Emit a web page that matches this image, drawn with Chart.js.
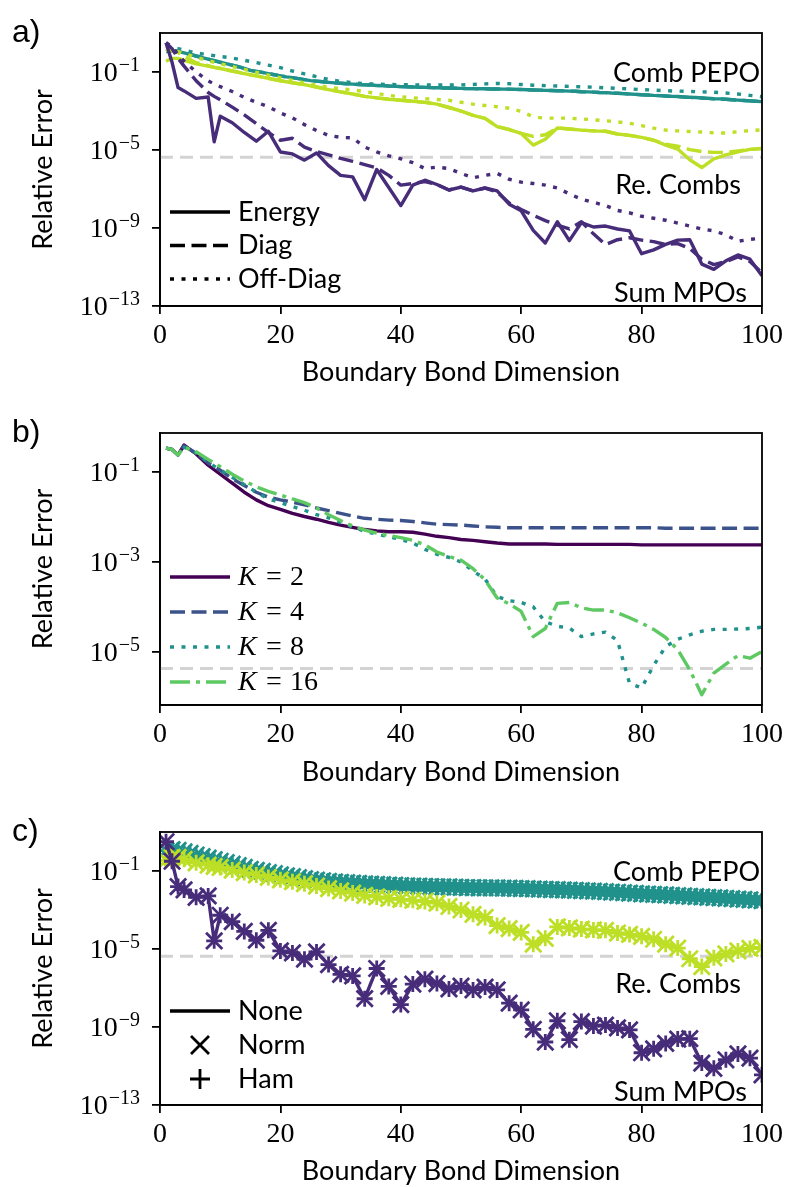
<!DOCTYPE html>
<html>
<head>
<meta charset="utf-8">
<title>Relative error vs boundary bond dimension</title>
<script src="https://cdn.jsdelivr.net/npm/chart.js@4.4.1/dist/chart.umd.min.js"></script>
<style>
  html, body { margin: 0; padding: 0; background: #fff; overflow: hidden; }
  body { width: 791px; height: 1187px; position: relative; }
  canvas { position: absolute; left: 0; }
  #panelA { top: 0; }
  #panelB { top: 400px; }
  #panelC { top: 799px; }
</style>
</head>
<body>
<canvas id="panelA" width="791" height="400"></canvas>
<canvas id="panelB" width="791" height="400"></canvas>
<canvas id="panelC" width="791" height="400"></canvas>
<script>
"use strict";

// Boundary bond dimensions (x values)
var bondDims = [1, 2, 3, 4, 6, 8, 9, 10,
  12, 14, 16, 18, 20, 22, 24, 26, 28, 30,
  32, 34, 36, 38, 40, 42, 44, 46, 48, 50,
  52, 54, 56, 58, 60, 62, 64, 66, 68, 70,
  72, 74, 76, 78, 80, 82, 84, 86, 88, 90,
  92, 94, 96, 98, 100];
var bondDimsFine = [1, 2, 3, 4, 5, 6, 7, 8, 9, 10,
  11, 12, 13, 14, 15, 16, 17, 18, 19, 20,
  21, 22, 23, 24, 25, 26, 27, 28, 29, 30,
  31, 32, 33, 34, 35, 36, 37, 38, 39, 40,
  41, 42, 43, 44, 45, 46, 47, 48, 49, 50,
  51, 52, 53, 54, 55, 56, 57, 58, 59, 60,
  61, 62, 63, 64, 65, 66, 67, 68, 69, 70,
  71, 72, 73, 74, 75, 76, 77, 78, 79, 80,
  81, 82, 83, 84, 85, 86, 87, 88, 89, 90,
  91, 92, 93, 94, 95, 96, 97, 98, 99, 100];

// All series below: log10(relative error)

// Comb PEPO (teal)
var combEnergy = [0.05, 0.1, 0.06, -0.02, -0.1, -0.18, -0.26, -0.34, -0.42, -0.5,
  -0.57, -0.65, -0.73, -0.82, -0.92, -0.97, -1.02, -1.08, -1.14, -1.2,
  -1.25, -1.29, -1.34, -1.39, -1.44, -1.47, -1.5, -1.53, -1.56, -1.58,
  -1.6, -1.62, -1.64, -1.66, -1.67, -1.69, -1.7, -1.72, -1.73, -1.75,
  -1.76, -1.77, -1.78, -1.79, -1.8, -1.81, -1.82, -1.82, -1.83, -1.84,
  -1.85, -1.85, -1.86, -1.86, -1.87, -1.87, -1.88, -1.88, -1.89, -1.9,
  -1.91, -1.92, -1.93, -1.94, -1.95, -1.96, -1.97, -1.98, -1.99, -2.01,
  -2.02, -2.03, -2.05, -2.06, -2.08, -2.09, -2.11, -2.13, -2.15, -2.17,
  -2.18, -2.2, -2.21, -2.23, -2.25, -2.26, -2.28, -2.3, -2.31, -2.33,
  -2.35, -2.37, -2.38, -2.4, -2.42, -2.44, -2.46, -2.48, -2.5, -2.52];
var combOffDiag = [0.2, 0.25, 0.2, 0.12, -0.02, -0.12, -0.16, -0.2,
  -0.28, -0.4, -0.52, -0.65, -0.78, -0.95, -1.1, -1.24, -1.38, -1.48,
  -1.55, -1.6, -1.62, -1.64, -1.65, -1.66, -1.66, -1.67, -1.67, -1.66,
  -1.64, -1.61, -1.59, -1.6, -1.64, -1.68, -1.7, -1.72, -1.74, -1.76,
  -1.78, -1.81, -1.84, -1.87, -1.9, -1.93, -1.96, -1.98, -2.0, -2.02,
  -2.04, -2.08, -2.13, -2.2, -2.27];

// Re. Combs (lime)
var reCombEnergy = [-0.45, -0.3, -0.3, -0.4, -0.58, -0.7, -0.76, -0.82,
  -0.95, -1.08, -1.2, -1.33, -1.45, -1.55, -1.65, -1.77, -1.9, -2.02,
  -2.13, -2.25, -2.33, -2.4, -2.45, -2.5, -2.56, -2.65, -2.82, -3.0,
  -3.22, -3.38, -3.8, -3.95, -4.15, -4.75, -4.45, -3.87, -3.92, -3.98,
  -4.02, -4.04, -4.18, -4.25, -4.35, -4.5, -4.75, -4.95, -5.5, -5.9,
  -5.45, -5.25, -5.1, -4.97, -4.92];
var reCombDiag = [0.1, 0.1, 0.0, -0.2, -0.52, -0.68, -0.76, -0.82,
  -0.95, -1.08, -1.2, -1.33, -1.45, -1.55, -1.65, -1.77, -1.9, -2.02,
  -2.13, -2.25, -2.33, -2.4, -2.45, -2.5, -2.56, -2.65, -2.82, -3.0,
  -3.22, -3.38, -3.8, -3.95, -4.15, -4.3, -4.22, -3.87, -3.92, -3.98,
  -4.02, -4.04, -4.18, -4.25, -4.35, -4.5, -4.7, -4.8, -4.98, -5.08,
  -5.12, -5.12, -5.05, -4.97, -4.92];
var reCombOffDiag = [0.15, 0.12, 0.05, -0.05, -0.25, -0.42, -0.5, -0.58,
  -0.72, -0.87, -1.02, -1.16, -1.3, -1.43, -1.56, -1.68, -1.78, -1.86,
  -1.92, -2.0, -2.1, -2.2, -2.27, -2.32, -2.37, -2.41, -2.45, -2.55,
  -2.65, -2.72, -2.78, -2.86, -3.02, -3.3, -3.37, -3.36, -3.37, -3.41,
  -3.45, -3.5, -3.56, -3.63, -3.75, -3.88, -3.98, -4.02, -4.05, -4.08,
  -4.12, -4.13, -4.06, -4.0, -3.97];

// Sum MPOs (purple)
var sumEnergy = [0.5, -0.5, -1.8, -1.97, -2.35, -2.28, -4.58, -3.27,
  -3.6, -4.1, -4.55, -4.04, -5.1, -5.2, -5.52, -5.15, -5.8, -6.3,
  -6.38, -7.55, -6.0, -6.92, -7.85, -6.8, -6.55, -6.77, -7.05, -6.9,
  -7.1, -6.95, -7.1, -7.78, -8.12, -9.12, -9.77, -8.68, -9.65, -8.72,
  -8.95, -8.9, -9.05, -9.15, -10.32, -10.12, -9.84, -9.62, -9.6, -10.85,
  -11.12, -10.68, -10.38, -10.6, -11.45];
var sumDiag = [0.5, 0.2, -0.3, -0.7, -1.45, -2.05, -2.25, -2.42,
  -2.8, -3.2, -3.65, -4.1, -4.5, -4.4, -4.85, -5.08, -5.25, -5.43,
  -5.58, -5.75, -5.92, -6.3, -6.8, -6.72, -6.62, -6.77, -7.05, -6.9,
  -7.1, -6.95, -7.15, -7.72, -8.05, -8.35, -8.62, -8.85, -9.05, -8.68,
  -9.3, -9.85, -9.6, -9.5, -9.62, -9.7, -9.85, -9.8, -10.05, -10.6,
  -10.88, -10.72, -10.48, -10.72, -11.3];
var sumOffDiag = [0.5, 0.3, -0.1, -0.45, -1.0, -1.45, -1.62, -1.75,
  -2.0, -2.3, -2.55, -2.78, -3.1, -3.35, -3.7, -4.0, -4.25, -4.35,
  -4.38, -4.85, -5.1, -5.3, -5.45, -5.65, -5.95, -5.88, -5.95, -6.2,
  -6.42, -6.3, -6.2, -6.5, -6.65, -6.72, -6.8, -6.95, -7.25, -7.52,
  -7.68, -7.85, -8.1, -8.22, -8.4, -8.5, -8.6, -8.75, -8.9, -9.05,
  -9.15, -9.35, -9.68, -9.58, -9.53];

// Panel b: energy error for different K
var kTwo = [-0.47, -0.5, -0.62, -0.4, -0.6, -0.85, -0.95, -1.05,
  -1.25, -1.45, -1.62, -1.75, -1.83, -1.92, -1.99, -2.05, -2.12, -2.18,
  -2.23, -2.28, -2.31, -2.33, -2.33, -2.34, -2.38, -2.43, -2.46, -2.5,
  -2.52, -2.55, -2.58, -2.6, -2.6, -2.6, -2.6, -2.61, -2.61, -2.61,
  -2.61, -2.61, -2.61, -2.61, -2.62, -2.62, -2.62, -2.62, -2.62, -2.62,
  -2.62, -2.62, -2.62, -2.62, -2.62];
var kFour = [-0.47, -0.5, -0.62, -0.42, -0.58, -0.8, -0.88, -0.96,
  -1.15, -1.3, -1.45, -1.56, -1.62, -1.67, -1.73, -1.8, -1.86, -1.92,
  -1.98, -2.03, -2.05, -2.07, -2.08, -2.1, -2.13, -2.16, -2.17, -2.18,
  -2.2, -2.22, -2.23, -2.24, -2.24, -2.24, -2.24, -2.24, -2.24, -2.24,
  -2.24, -2.24, -2.24, -2.24, -2.24, -2.24, -2.25, -2.25, -2.25, -2.25,
  -2.25, -2.25, -2.25, -2.25, -2.25];
var kEight = [-0.47, -0.5, -0.62, -0.45, -0.58, -0.78, -0.87, -0.95,
  -1.12, -1.28, -1.45, -1.6, -1.68, -1.77, -1.85, -1.95, -2.02, -2.12,
  -2.22, -2.32, -2.38, -2.44, -2.5, -2.58, -2.72, -2.83, -2.9, -3.0,
  -3.2, -3.38, -3.77, -3.86, -3.9, -4.0, -4.33, -4.43, -4.47, -4.66,
  -4.6, -4.56, -4.75, -5.7, -5.8, -5.3, -4.88, -4.72, -4.62, -4.54,
  -4.5, -4.5, -4.49, -4.48, -4.45];
var kSixteen = [-0.47, -0.5, -0.62, -0.45, -0.55, -0.72, -0.8, -0.88,
  -1.05, -1.2, -1.33, -1.43, -1.51, -1.6, -1.68, -1.8, -1.95, -2.08,
  -2.2, -2.29, -2.36, -2.41, -2.46, -2.52, -2.62, -2.78, -2.88, -2.96,
  -3.15, -3.4, -3.8, -3.93, -4.1, -4.66, -4.48, -3.92, -3.9, -4.02,
  -4.07, -4.07, -4.13, -4.24, -4.36, -4.5, -4.68, -4.95, -5.4, -5.95,
  -5.47, -5.27, -5.08, -5.14, -4.99];

var thresholdError = 4.3e-6;
var xRange = [0, 100];
var xTicks = [0, 20, 40, 60, 80, 100];
var yTicksAC = [1e-13, 1e-9, 1e-5, 1e-1];
var yTicksB = [1e-5, 1e-3, 1e-1];
var kLabels = ['2', '4', '8', '16'];

var purple = '#472c7a', teal = '#21918c', lime = '#bddf26';
var kColors = ['#440154', '#3b528b', '#21918c', '#5ec962'];
var dashed = [15, 6.5], dotted = [4, 7.5], dashDot = [20, 6, 4, 6];

var sansFont = 'Lato, "DejaVu Sans", sans-serif';
var serifFont = '"Liberation Serif", "DejaVu Serif", serif';
var letterFont = '"Liberation Sans", Arial, sans-serif';
var lineW = 3.4;

Chart.defaults.font.family = sansFont;
Chart.defaults.color = '#000';

function pts(dims, logs) {
  return dims.map(function (d, i) { return {x: d, y: Math.pow(10, logs[i])}; });
}

function line(data, color, dash) {
  return {
    data: data, borderColor: color, backgroundColor: color, borderWidth: lineW,
    borderDash: dash || [], borderCapStyle: 'butt', borderJoinStyle: 'round',
    pointRadius: 0, tension: 0, fill: false, clip: 0
  };
}

function markers(data, color, style, radius) {
  return {
    data: data, showLine: false, pointStyle: style, pointRadius: radius,
    pointBorderWidth: 2.8, pointBorderColor: color, pointBackgroundColor: color,
    borderColor: color, clip: 0
  };
}

function threshold() {
  var d = line([{x: xRange[0], y: thresholdError}, {x: xRange[1], y: thresholdError}], '#d3d3d3', [13, 7]);
  d.borderWidth = 3;
  return d;
}

// frame, 10^n tick labels, legend, notes and panel letter
var decor = {
  id: 'decor',
  afterDatasetsDraw: function (chart) {
    var a = chart.chartArea, ctx = chart.ctx;
    ctx.save();
    ctx.strokeStyle = '#000';
    ctx.lineWidth = 1.8;
    ctx.strokeRect(a.left, a.top, a.right - a.left, a.bottom - a.top);
    ctx.restore();
  },
  afterDraw: function (chart, args, opts) {
    var ctx = chart.ctx, a = chart.chartArea, ys = chart.scales.y;
    ctx.save();
    ctx.fillStyle = '#000';
    ctx.textBaseline = 'alphabetic';

    ys.ticks.forEach(function (t) {
      var py = ys.getPixelForValue(t.value);
      var exp = '\u2212' + Math.round(-Math.log10(t.value));
      var right = a.left - 20;
      ctx.font = '20px ' + serifFont;
      var ew = ctx.measureText(exp).width;
      ctx.textAlign = 'left';
      ctx.fillText(exp, right - ew, py - 1);
      ctx.font = '28px ' + serifFont;
      ctx.textAlign = 'right';
      ctx.fillText('10', right - ew - 1, py + 9);
    });

    ctx.font = '32px ' + letterFont;
    ctx.textAlign = 'left';
    ctx.fillText(opts.letter, 12, a.top + 9);

    ctx.textBaseline = 'middle';
    ctx.font = '27px ' + sansFont;
    (opts.notes || []).forEach(function (n) {
      ctx.textAlign = 'right';
      ctx.fillText(n.text, a.right - n.dx, a.top + n.dy);
    });

    (opts.legend || []).forEach(function (item, i) {
      var y = a.top + opts.legendTop + i * opts.legendGap;
      var cx = a.left + 40;
      ctx.strokeStyle = item.color || '#000';
      ctx.lineWidth = lineW;
      ctx.lineCap = 'butt';
      ctx.setLineDash(item.dash || []);
      ctx.beginPath();
      if (item.marker === 'x') {
        ctx.lineWidth = 2.8;
        ctx.moveTo(cx - 9, y - 9); ctx.lineTo(cx + 9, y + 9);
        ctx.moveTo(cx + 9, y - 9); ctx.lineTo(cx - 9, y + 9);
      } else if (item.marker === '+') {
        ctx.lineWidth = 2.8;
        ctx.moveTo(cx - 10, y); ctx.lineTo(cx + 10, y);
        ctx.moveTo(cx, y - 10); ctx.lineTo(cx, y + 10);
      } else {
        ctx.moveTo(a.left + 10, y); ctx.lineTo(a.left + 70, y);
      }
      ctx.stroke();
      ctx.setLineDash([]);
      ctx.textAlign = 'left';
      var tx = a.left + 78;
      if (item.k) {
        ctx.font = 'italic 28px ' + serifFont;
        ctx.fillText('K', tx, y + 1);
        ctx.font = '28px ' + serifFont;
        ctx.fillText('=', tx + 28, y + 1);
        ctx.fillText(item.k, tx + 52, y + 1);
      } else {
        ctx.font = '27px ' + sansFont;
        ctx.fillText(item.text, tx, y);
      }
    });
    ctx.restore();
  }
};

function axes(yMin, yMax, yTicks, xAxisHeight) {
  var grid = {drawOnChartArea: false, drawTicks: true, tickLength: 8, lineWidth: 1.8, color: '#000'};
  var border = {display: true, color: '#000', width: 1.8};
  return {
    x: {
      type: 'linear', min: xRange[0], max: xRange[1],
      afterBuildTicks: function (s) { s.ticks = xTicks.map(function (v) { return {value: v}; }); },
      ticks: {color: '#000', font: {family: serifFont, size: 28, lineHeight: 1}, padding: 8, maxRotation: 0, autoSkip: false},
      grid: grid, border: border,
      title: {display: true, text: 'Boundary Bond Dimension', color: '#000',
        font: {family: sansFont, size: 27, lineHeight: 1.2}, padding: {top: 0, bottom: 12}},
      afterFit: function (s) { s.height = xAxisHeight; }
    },
    y: {
      type: 'logarithmic', min: yMin, max: yMax,
      afterBuildTicks: function (s) { s.ticks = yTicks.map(function (v) { return {value: v}; }); },
      ticks: {display: false},
      grid: grid, border: border,
      title: {display: true, text: 'Relative Error', color: '#000',
        font: {family: sansFont, size: 27, lineHeight: 1.2}, padding: {top: 27, bottom: 0}},
      afterFit: function (s) { s.width = 160; }
    }
  };
}

function panel(id, datasets, yMin, yMax, yTicks, xAxisHeight, decorOpts) {
  // datasets are listed bottom to top
  datasets.forEach(function (d, i) { d.order = datasets.length - i; });
  return new Chart(document.getElementById(id), {
    type: 'line',
    data: {datasets: datasets},
    options: {
      responsive: false, animation: false, devicePixelRatio: 1, events: [],
      layout: {padding: {top: 33, right: 24, bottom: 0, left: 0}},
      plugins: {legend: {display: false}, tooltip: {enabled: false}, decor: decorOpts},
      scales: axes(yMin, yMax, yTicks, xAxisHeight)
    },
    plugins: [decor]
  });
}

var seriesNotes = [
  {text: 'Comb PEPO', dx: 2, dy: 40},
  {text: 'Re. Combs', dx: 21, dy: 152},
  {text: 'Sum MPOs', dx: 15, dy: 260}
];

// a) energy / diagonal / off-diagonal errors
panel('panelA', [
  threshold(),
  line(pts(bondDimsFine, combEnergy), teal),
  line(pts(bondDimsFine, combEnergy), teal, dashed),
  line(pts(bondDims, combOffDiag), teal, dotted),
  line(pts(bondDims, reCombEnergy), lime),
  line(pts(bondDims, reCombDiag), lime, dashed),
  line(pts(bondDims, reCombOffDiag), lime, dotted),
  line(pts(bondDims, sumEnergy), purple),
  line(pts(bondDims, sumDiag), purple, dashed),
  line(pts(bondDims, sumOffDiag), purple, dotted)
], 1e-13, 10, yTicksAC, 94, {
  letter: 'a)', notes: seriesNotes, legendTop: 179, legendGap: 33.5,
  legend: [{text: 'Energy'}, {text: 'Diag', dash: dashed}, {text: 'Off-Diag', dash: dotted}]
});

// b) dependence on K
var kSeries = [kTwo, kFour, kEight, kSixteen];
var kDashes = [[], dashed, dotted, dashDot];
var bSets = [threshold()];
kSeries.forEach(function (s, i) { bSets.push(line(pts(bondDims, s), kColors[i], kDashes[i])); });
panel('panelB', bSets, 6.6e-7, 0.736, yTicksB, 95, {
  letter: 'b)', legendTop: 144, legendGap: 35,
  legend: kLabels.map(function (k, i) { return {k: k, color: kColors[i], dash: kDashes[i]}; })
});

// c) normalisation variants
var cSets = [threshold()];
[[bondDimsFine, combEnergy, teal], [bondDims, reCombEnergy, lime], [bondDims, sumEnergy, purple]].forEach(function (s) {
  var data = pts(s[0], s[1]);
  cSets.push(line(data, s[2]));
  cSets.push(markers(data, s[2], 'crossRot', 11.5));
  cSets.push(markers(data, s[2], 'cross', 8));
});
panel('panelC', cSets, 1e-13, 10, yTicksAC, 94, {
  letter: 'c)', notes: seriesNotes, legendTop: 179, legendGap: 34,
  legend: [{text: 'None'}, {text: 'Norm', marker: 'x'}, {text: 'Ham', marker: '+'}]
});
</script>
</body>
</html>
